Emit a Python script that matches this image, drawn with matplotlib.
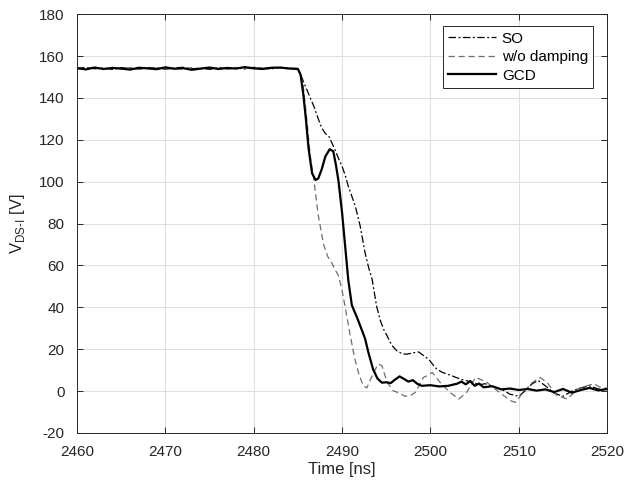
import matplotlib
matplotlib.use("Agg")

import matplotlib.pyplot as plt

# flat part before switching (same sampling for all three traces)
t_flat = [2460, 2461, 2462, 2463, 2464, 2465, 2466, 2467, 2468, 2469, 2470, 2471, 2472,
          2473, 2474, 2475, 2476, 2477, 2478, 2479, 2480, 2481, 2482, 2483, 2484, 2485]

so_flat = [154.0, 154.6, 153.9, 154.3, 153.6, 154.4, 154.1, 153.8, 154.5, 154.2, 153.7, 154.3, 154.6,
           153.9, 154.1, 153.6, 154.4, 154.0, 154.3, 153.8, 154.6, 154.1, 153.9, 154.4, 154.2, 154.0]
wo_flat = [153.8, 154.3, 154.6, 153.7, 154.2, 153.9, 154.5, 153.6, 154.0, 154.4, 153.8, 154.1, 153.7,
           154.5, 153.9, 154.3, 154.1, 153.6, 154.4, 154.2, 153.9, 154.6, 154.0, 154.3, 154.1, 154.0]
gcd_flat = [154.2, 153.6, 154.5, 153.8, 154.3, 154.0, 153.5, 154.4, 154.1, 153.7, 154.6, 153.9, 154.2,
            153.4, 154.0, 154.5, 153.8, 154.3, 154.0, 154.7, 154.1, 153.8, 154.4, 154.5, 154.0, 153.8]

# SO
so_t = [2485.25, 2485.7, 2486.2, 2486.8, 2487.3, 2487.7, 2488.1, 2488.5, 2488.9, 2489.2, 2489.6,
        2490.0, 2490.35, 2490.7, 2491.1, 2491.5, 2492.05, 2492.6, 2493.0, 2493.4, 2493.9, 2494.3,
        2494.7, 2495.1, 2495.6, 2496.2, 2496.8, 2497.3, 2498.0, 2498.65, 2499.2, 2499.8, 2500.2,
        2500.7, 2501.3, 2501.9, 2502.6, 2503.4, 2504.2, 2504.9, 2505.5, 2506.2, 2507.0, 2508.0,
        2509.0, 2510.0, 2510.8, 2511.5, 2512.2, 2513.0, 2514.0, 2515.0, 2516.0, 2517.0, 2518.0,
        2519.0, 2520.0]
so_v = [151.8, 147.0, 142.0, 136.0, 130.0, 125.6, 123.0, 121.6, 118.0, 115.2, 111.0,
        107.3, 103.0, 97.8, 93.0, 88.2, 78.7, 66.0, 59.0, 53.3, 40.6, 34.0,
        29.5, 26.3, 22.0, 19.2, 17.8, 17.6, 18.2, 18.7, 17.0, 15.2, 13.0,
        10.5, 9.0, 8.1, 7.0, 5.7, 4.8, 4.1, 3.0, 3.5, 2.2, 1.0,
        -1.5, -2.5, 0.5, 3.5, 5.0, 2.5, -1.0, -2.5, 0.0, 1.5, 2.5,
        1.0, 0.5]

# w/o damping
wo_t = [2485.3, 2485.6, 2486.0, 2486.4, 2486.8, 2487.3, 2487.9, 2488.4, 2488.8, 2489.2, 2489.6,
        2490.0, 2490.35, 2490.9, 2491.4, 2491.9, 2492.4, 2492.8, 2493.2, 2493.7, 2494.1, 2494.5,
        2495.1, 2495.8, 2496.5, 2497.1, 2497.7, 2498.3, 2499.2, 2499.7, 2500.2, 2501.1, 2502.2,
        2503.2, 2504.1, 2505.1, 2505.7, 2506.4, 2507.3, 2508.3, 2509.0, 2509.6, 2510.5, 2511.5,
        2512.4, 2513.2, 2514.3, 2515.5, 2516.6, 2517.7, 2518.5, 2519.2, 2520.0]
wo_v = [151.0, 146.0, 130.0, 112.0, 101.0, 84.0, 70.0, 64.0, 61.5, 58.0, 55.0,
        48.0, 40.0, 27.0, 16.0, 8.0, 2.5, 1.5, 5.5, 10.0, 12.9, 12.1,
        4.1, 0.1, -1.0, -2.5, -2.2, -0.6, 6.5, 7.5, 8.9, 4.1, -0.6,
        -3.8, -0.6, 6.5, 5.5, 4.1, 1.0, -2.2, -4.5, -5.4, -0.6, 4.0,
        6.5, 4.1, -2.2, -3.8, 1.0, 2.5, 3.5, 1.8, 1.3]

# GCD
gcd_t = [2485.3, 2485.6, 2485.9, 2486.2, 2486.6, 2487.0, 2487.3, 2487.7, 2488.1, 2488.6, 2489.0,
         2489.3, 2489.6, 2490.0, 2490.35, 2490.7, 2491.1, 2491.7, 2492.2, 2492.6, 2493.0, 2493.5,
         2494.0, 2494.5, 2495.0, 2495.5, 2496.0, 2496.5, 2497.0, 2497.5, 2498.0, 2498.5, 2499.0,
         2500.0, 2501.0, 2502.0, 2503.0, 2503.5, 2504.0, 2504.5, 2505.0, 2505.5, 2506.0, 2507.0,
         2508.0, 2509.0, 2510.0, 2511.0, 2512.0, 2513.0, 2514.0, 2515.0, 2516.0, 2517.0, 2518.0,
         2519.0, 2520.0]
gcd_v = [151.0, 142.0, 130.0, 116.0, 104.0, 100.8, 101.5, 106.0, 112.0, 115.5, 114.5,
         108.0, 100.0, 85.0, 69.0, 53.0, 41.0, 35.0, 29.5, 25.0, 18.0, 10.5,
         6.0, 4.0, 4.2, 3.8, 5.5, 7.0, 5.8, 4.5, 5.2, 3.5, 2.5,
         2.8, 2.2, 2.5, 3.5, 4.5, 3.2, 4.8, 2.5, 3.6, 1.8, 2.3,
         0.8, 1.2, 0.5, 1.0, 0.2, 0.8, -0.5, 1.0, -0.8, 0.5, 1.5,
         0.3, 1.0]

plt.rcParams["font.family"] = ["Liberation Sans", "DejaVu Sans"]
plt.rcParams["mathtext.fontset"] = "custom"
plt.rcParams["mathtext.rm"] = "Liberation Sans"
plt.rcParams["axes.unicode_minus"] = False

fig = plt.figure(figsize=(6.26, 4.87), dpi=100)
ax = fig.add_axes([0.123, 0.111, 0.847, 0.860])

ax.plot(t_flat + so_t, so_flat + so_v, color="black", linewidth=0.9,
        linestyle=(0, (6, 2, 1.5, 2)), label="SO")
ax.plot(t_flat + wo_t, wo_flat + wo_v, color="#6e6e6e", linewidth=0.9,
        linestyle=(0, (5, 3)), label="w/o damping")
ax.plot(t_flat + gcd_t, gcd_flat + gcd_v, color="black", linewidth=1.6, label="GCD")

ax.set_xlim(2460, 2520)
ax.set_ylim(-20, 180)
ax.set_xticks(range(2460, 2521, 10))
ax.set_yticks(range(-20, 181, 20))
ax.tick_params(direction="in", top=True, right=True, labelsize=11, colors="#262626",
               length=4, width=0.7)
ax.tick_params(axis="x", pad=9)
ax.tick_params(axis="y", pad=9)
for spine in ax.spines.values():
    spine.set_color("#262626")
    spine.set_linewidth(0.7)
ax.grid(True, color="#dedede", linewidth=0.7)
ax.set_axisbelow(True)

ax.set_xlabel("Time [ns]", fontsize=12, color="#262626")
ax.set_ylabel(r"V$_{\mathregular{DS}\text{-}\mathregular{I}}$ [V]", fontsize=12, color="#262626")
ax.xaxis.set_label_coords(0.5, -0.069)
ax.yaxis.set_label_coords(-0.095, 0.5)

leg = ax.legend(loc="upper right", bbox_to_anchor=(0.974, 0.971), borderaxespad=0,
                fontsize=11, handlelength=3.1, handletextpad=0.4,
                fancybox=False, framealpha=1, borderpad=0.35, labelspacing=0.3)
leg.get_frame().set_edgecolor("#262626")
leg.get_frame().set_linewidth(0.7)

fig.savefig("out.png", dpi=100)
